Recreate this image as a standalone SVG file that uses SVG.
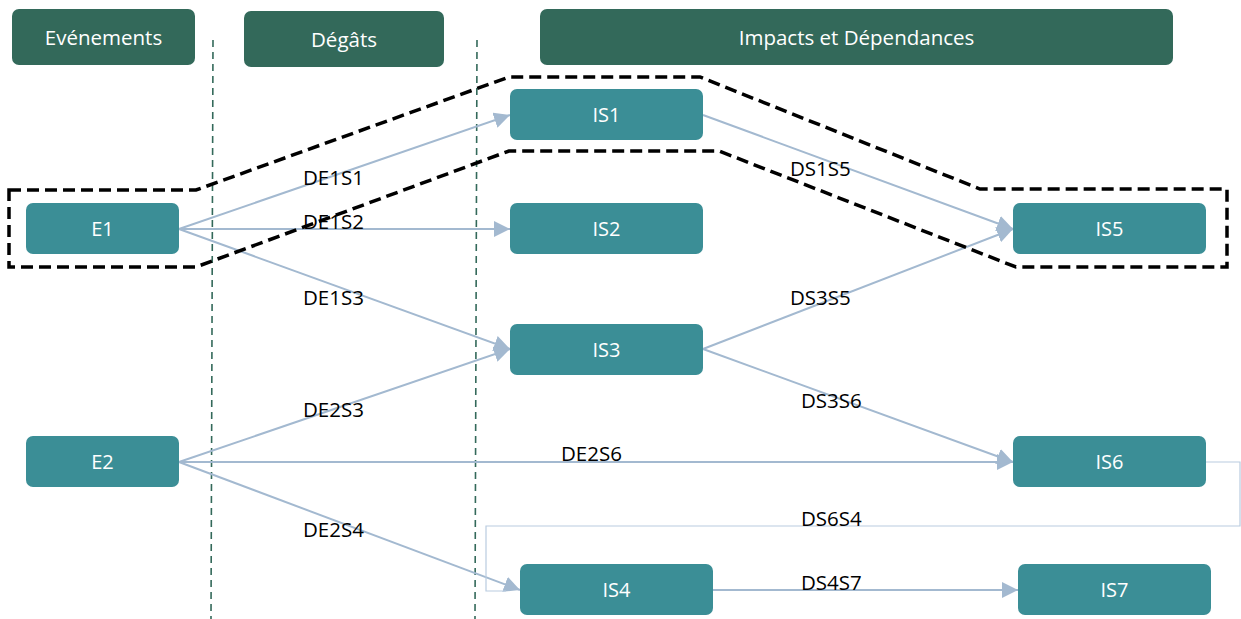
<svg xmlns="http://www.w3.org/2000/svg" width="1241" height="619" viewBox="0 0 1241 619">
<defs>
<style>
.hdr{fill:#33695a;}
.hdrt{fill:#ffffff;font-family:"Open Sans",sans-serif;font-size:20.5px;text-anchor:middle;dominant-baseline:central;}
.node{fill:#3b8e96;}
.nt{fill:#ffffff;font-family:"Open Sans",sans-serif;font-size:20px;text-anchor:middle;dominant-baseline:central;}
.vl{stroke:#33695a;stroke-width:1.6;stroke-dasharray:7,5;fill:none;}
.c{stroke:#a3b9d0;stroke-width:2;fill:none;}
.c2{stroke:#b9cce0;stroke-width:1.2;fill:none;}
.lbl{fill:#000000;font-family:"Open Sans",sans-serif;font-size:20.5px;}
.grp{stroke:#000000;stroke-width:3.5;stroke-dasharray:12,6;fill:none;}
</style>
<marker id="ah" viewBox="0 0 10 10" refX="10" refY="5" markerWidth="16" markerHeight="16" markerUnits="userSpaceOnUse" orient="auto">
<path d="M0,0 L10,5 L0,10 z" fill="#a3b9d0"/>
</marker>
</defs>
<rect width="1241" height="619" fill="#ffffff"/>
<g id="headers">
<g id="h-evenements"><rect class="hdr" x="12" y="9" width="183" height="56" rx="7"/><text class="hdrt" x="103.5" y="37">Evénements</text></g>
<g id="h-degats"><rect class="hdr" x="244" y="11" width="200" height="56" rx="7"/><text class="hdrt" x="344" y="39">Dégâts</text></g>
<g id="h-impacts"><rect class="hdr" x="540" y="9" width="633" height="56" rx="7"/><text class="hdrt" x="856.5" y="37">Impacts et Dépendances</text></g>
</g>
<g id="separators">
<line class="vl" x1="213" y1="40" x2="211" y2="619"/>
<line class="vl" x1="477" y1="40" x2="475" y2="619"/>
</g>
<g id="connectors">
<line class="c" x1="179" y1="229" x2="510" y2="115" marker-end="url(#ah)"/>
<line class="c" x1="179" y1="229" x2="510" y2="229" marker-end="url(#ah)"/>
<line class="c" x1="179" y1="229" x2="510" y2="349" marker-end="url(#ah)"/>
<line class="c" x1="179" y1="462" x2="510" y2="349" marker-end="url(#ah)"/>
<line class="c" x1="179" y1="462" x2="1013" y2="462" marker-end="url(#ah)"/>
<line class="c" x1="179" y1="462" x2="520" y2="590" marker-end="url(#ah)"/>
<line class="c" x1="703" y1="115" x2="1013" y2="229" marker-end="url(#ah)"/>
<line class="c" x1="703" y1="349" x2="1013" y2="229" marker-end="url(#ah)"/>
<line class="c" x1="703" y1="349" x2="1013" y2="462" marker-end="url(#ah)"/>
<polyline class="c2" points="1206,462 1240,462 1240,526 486,526 486,591 506,591"/>
<line class="c" x1="713" y1="590" x2="1018" y2="590" marker-end="url(#ah)"/>
</g>
<g id="labels">
<text class="lbl" x="303" y="185">DE1S1</text>
<text class="lbl" x="303" y="229">DE1S2</text>
<text class="lbl" x="303" y="305">DE1S3</text>
<text class="lbl" x="303" y="417">DE2S3</text>
<text class="lbl" x="561" y="461">DE2S6</text>
<text class="lbl" x="303" y="537">DE2S4</text>
<text class="lbl" x="790" y="176">DS1S5</text>
<text class="lbl" x="790" y="305">DS3S5</text>
<text class="lbl" x="801" y="408">DS3S6</text>
<text class="lbl" x="801" y="526">DS6S4</text>
<text class="lbl" x="801" y="590">DS4S7</text>
</g>
<g id="n-E1"><rect class="node" x="26" y="203" width="153" height="51" rx="7"/><text class="nt" x="102.5" y="228.5">E1</text></g>
<g id="n-E2"><rect class="node" x="26" y="436" width="153" height="51" rx="7"/><text class="nt" x="102.5" y="461.5">E2</text></g>
<g id="n-IS1"><rect class="node" x="510" y="89" width="193" height="51" rx="7"/><text class="nt" x="606.5" y="114.5">IS1</text></g>
<g id="n-IS2"><rect class="node" x="510" y="203" width="193" height="51" rx="7"/><text class="nt" x="606.5" y="228.5">IS2</text></g>
<g id="n-IS3"><rect class="node" x="510" y="324" width="193" height="51" rx="7"/><text class="nt" x="606.5" y="349.5">IS3</text></g>
<g id="n-IS4"><rect class="node" x="520" y="564" width="193" height="51" rx="7"/><text class="nt" x="616.5" y="589.5">IS4</text></g>
<g id="n-IS5"><rect class="node" x="1013" y="203" width="193" height="51" rx="7"/><text class="nt" x="1109.5" y="228.5">IS5</text></g>
<g id="n-IS6"><rect class="node" x="1013" y="436" width="193" height="51" rx="7"/><text class="nt" x="1109.5" y="461.5">IS6</text></g>
<g id="n-IS7"><rect class="node" x="1018" y="564" width="193" height="51" rx="7"/><text class="nt" x="1114.5" y="589.5">IS7</text></g>
<g id="scope">
<path class="grp" d="M9,190 L196,190 L509,77 L700,77 L980,189 L1227,189 L1227,267 L1016,267 L719,151 L509,151 L196,267 L9,267 Z"/>
</g>
</svg>
